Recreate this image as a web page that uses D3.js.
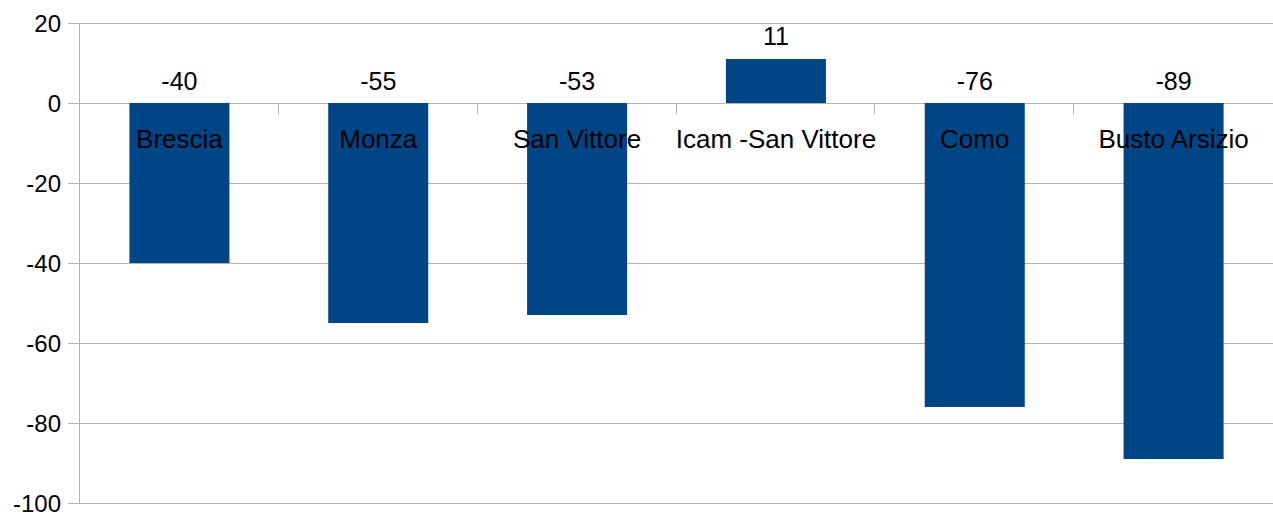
<!DOCTYPE html>
<html><head><meta charset="utf-8">
<script src="https://cdn.jsdelivr.net/npm/d3@7"></script>
<style>body{margin:0;background:#fff}svg{display:block}text{font-family:"Liberation Sans",Arial,sans-serif;fill:#000}</style>
</head><body><svg id="c" width="1273" height="518"></svg>
<script>
const categories = ["Brescia","Monza","San Vittore","Icam -San Vittore","Como","Busto Arsizio"];
const values = [-40,-55,-53,11,-76,-89];
const yTicks = [20,0,-20,-40,-60,-80,-100];

const svg = d3.select("#c");
const m = {l:80, r:1273, t:23, b:503};
const x = d3.scaleBand().domain(categories).range([m.l, m.r]).paddingInner(0).paddingOuter(0);
const y = d3.scaleLinear().domain([-100,20]).range([m.b, m.t]);
const grid = "#b3b3b3";

svg.append("g").selectAll("line").data(yTicks).join("line")
  .attr("x1", m.l-12).attr("x2", m.r).attr("y1", d=>y(d)+0.5).attr("y2", d=>y(d)+0.5)
  .attr("stroke", grid).attr("stroke-width",1);
svg.append("line").attr("x1", m.l-0.5).attr("x2", m.l-0.5).attr("y1", m.t).attr("y2", m.b)
  .attr("stroke", grid);
svg.append("g").selectAll("text").data(yTicks).join("text")
  .attr("x", 61).attr("y", d=>y(d)).attr("dy","0.36em").attr("text-anchor","end")
  .attr("font-size", 24).text(d=>d);
const bounds = categories.slice(1).map(c=>x(c));
svg.append("g").selectAll("line").data(bounds).join("line")
  .attr("x1", d=>Math.round(d)-0.5).attr("x2", d=>Math.round(d)-0.5)
  .attr("y1", y(0)).attr("y2", y(0)+11).attr("stroke", grid);
const bw = x.bandwidth()*0.503;
svg.append("g").selectAll("rect").data(values).join("rect")
  .attr("x", (d,i)=>x(categories[i])+x.bandwidth()/2-bw/2)
  .attr("width", bw)
  .attr("y", d=>y(Math.max(0,d)))
  .attr("height", d=>Math.abs(y(d)-y(0)))
  .attr("fill", "#004586");
svg.append("g").selectAll("text").data(values).join("text")
  .attr("x", (d,i)=>x(categories[i])+x.bandwidth()/2)
  .attr("y", d=> d>0 ? y(d)-14 : y(0)-13)
  .attr("text-anchor","middle").attr("font-size", 25).text(d=>d);
svg.append("g").selectAll("text").data(categories).join("text")
  .attr("x", d=>x(d)+x.bandwidth()/2).attr("y", 148)
  .attr("text-anchor","middle").attr("font-size", 26).text(d=>d);
</script></body></html>
